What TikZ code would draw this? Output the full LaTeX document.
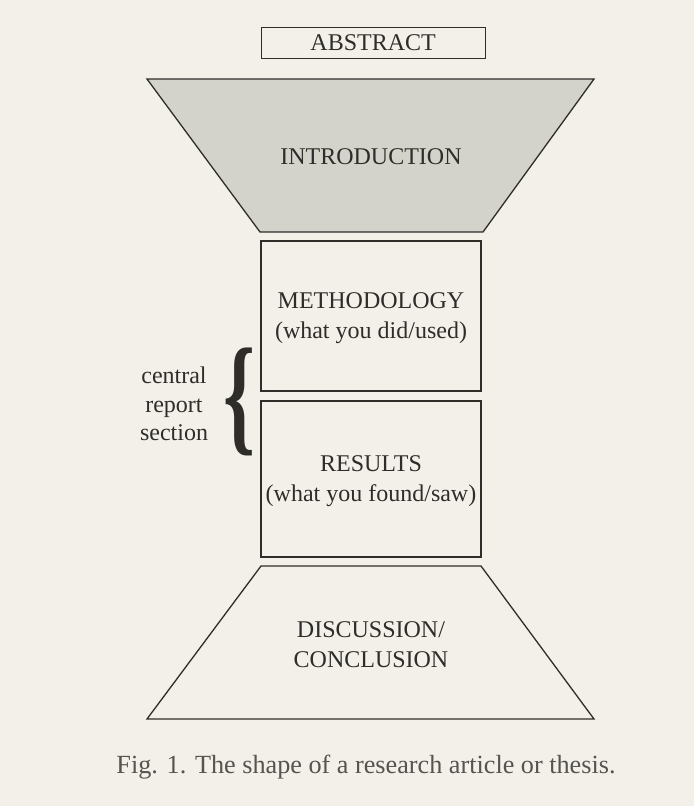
\documentclass[tikz,border=0pt]{standalone}
\usepackage{fontspec}
\usepackage{graphicx}
\setmainfont{Liberation Serif}
\definecolor{bg}{HTML}{F3F0E9}
\definecolor{ink}{HTML}{2E2D2A}
\definecolor{introfill}{HTML}{D4D3CB}
\definecolor{capink}{HTML}{555450}
\begin{document}
\begin{tikzpicture}[x=1pt,y=-1pt,
  shapeline/.style={draw=ink,line width=1.3pt,line join=miter},
  lbl/.style={text=ink,font=\fontsize{24}{30}\selectfont,align=center,inner sep=0pt}]
\useasboundingbox (0,0) rectangle (694,806);
\fill[bg] (0,0) rectangle (694,806);
% abstract
\node[shapeline,minimum width=224pt,minimum height=31pt,inner sep=0pt,anchor=north west,text=ink,font=\fontsize{24}{30}\selectfont] (abs) at (260.5,26.5) {ABSTRACT};
% introduction
\draw[shapeline,fill=introfill] (147,79) -- (594,79) -- (483,232) -- (260,232) -- cycle;
\node[lbl] (intro) at (371,157) {INTRODUCTION};
% methodology
\draw[shapeline] (261,241) rectangle (481,391);
\node[lbl] (meth) at (371,318) {METHODOLOGY\\(what you did/used)};
% results
\draw[shapeline] (261,401) rectangle (481,557);
\node[lbl] (res) at (371,481) {RESULTS\\(what you found/saw)};
% discussion
\draw[shapeline] (261,566) -- (481,566) -- (594,719) -- (147,719) -- cycle;
\node[lbl] (disc) at (371,645) {DISCUSSION/\\CONCLUSION};
% brace
\node[text=ink,inner sep=0pt] (brace) at (240,402) {\resizebox*{32pt}{108pt}{\bfseries\{}};
\node[lbl,font=\fontsize{24}{28.5}\selectfont] (central) at (174,404) {central\\report\\section};
% caption
\node[text=capink,font=\fontsize{26.2}{30}\selectfont,inner sep=0pt] (cap) at (366,767) {Fig. 1. The shape of a research article or thesis.};
\end{tikzpicture}
\end{document}
